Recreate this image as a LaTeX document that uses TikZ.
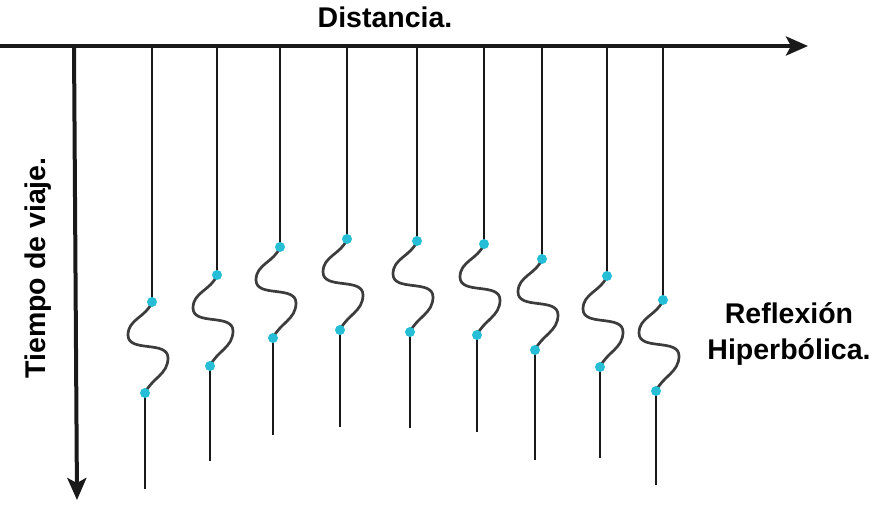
\documentclass[tikz,border=0pt]{standalone}
\usepackage{fontspec}
\setmainfont{Liberation Sans}
\definecolor{pickcyan}{RGB}{38, 190, 214}
\definecolor{wavegray}{RGB}{60, 60, 60}
\definecolor{axisblack}{RGB}{25, 25, 25}
\usetikzlibrary{arrows.meta,calc}

\begin{document}
\begin{tikzpicture}[x=1pt, y=1pt,
    every node/.style={font=\bfseries\fontsize{28.5}{36}\selectfont},
    axis/.style={line width=4pt, color=axisblack, -{Stealth[length=22pt, width=19pt, inset=5pt]}},
    trace/.style={line width=2.7pt, color=axisblack},
    wave/.style={line width=2.7pt, color=wavegray},
    pick/.style={circle, fill=pickcyan, inner sep=0pt, minimum size=10pt}]
    \useasboundingbox (0,0) rectangle (893,-504);

    % Axes
    \coordinate (origin) at (74,-46);
    \coordinate (xstart) at (0,-46);
    \coordinate (xend) at (808,-46);
    \coordinate (yend) at (77,-500);
    \draw[axis] (xstart) -- (xend);
    \draw[axis] (origin) -- (yend);

    % Labels
    \node (dist) at (385,-17) {Distancia.};
    \node[rotate=90] (time) at (38,-268) {Tiempo de viaje.};
    \node[align=center] (hyp) at (789,-334) {Reflexión\\Hiperbólica.};

    % Traces: top x / first pick / bottom end
    \foreach \x/\p/\e [count=\i] in {152/302/489, 217/275/461, 280/247/435,
        347/239/427, 417/241/428, 484/244/432, 542/259/460, 607/276/458, 663/300/485} {
        \coordinate (top\i) at (\x,-46);
        \coordinate (up\i) at (\x,-\p);
        \coordinate (low\i) at ($(up\i)+(-7,-91)$);
        \coordinate (end\i) at ($(low\i)+(0,-\e+\p+91)$);
        \draw[trace] (top\i) -- (up\i);
        \draw[wave] (up\i) to[out=-110, in=90] ++(-24,-33)
            to[out=-90, in=90] ++(40,-23) to[out=-90, in=65] (low\i);
        \draw[trace] (low\i) -- (end\i);
        \node[pick] (a\i) at (up\i) {};
        \node[pick] (b\i) at (low\i) {};
    }
\end{tikzpicture}
\end{document}
